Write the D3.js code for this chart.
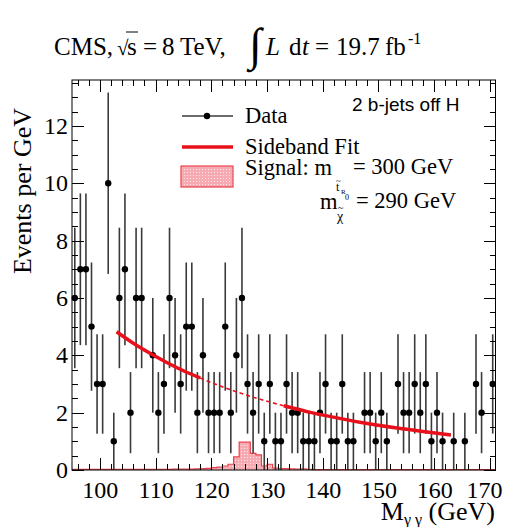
<!DOCTYPE html>
<meta charset="utf-8">
<style>

body {
  margin: 0;
  background: #fff;
}

svg text {
  font-family: "Times New Roman", "Liberation Serif", Tinos, serif;
  fill: #000;
}

.axis path {
  display: none;
}

.axis line {
  stroke: #000;
  shape-rendering: crispEdges;
}

.err {
  stroke: #3a3a3a;
  stroke-width: 1.6;
}

</style>
<body>
<script src="https://d3js.org/d3.v7.min.js"></script>
<script>

// 1 GeV bins starting at 95 GeV
var binStart = 95, binWidth = 1, massMax = 171;

// observed events per bin
var counts = [6, 7, 7, 5, 3, 3, 10, 1, 6, 7,
              2, 6, 6, 0, 4, 2, 3, 6, 4, 3,
              5, 5, 2, 4, 2, 2, 2, 5, 2, 4,
              6, 3, 2, 3, 1, 3, 1, 1, 3, 2,
              2, 1, 1, 1, 2, 3, 1, 1, 3, 1,
              1, 0, 2, 2, 1, 2, 1, 0, 3, 2,
              2, 3, 2, 3, 1, 2, 1, 0, 1, 0,
              1, 0, 3, 2, 0, 3];

// expected signal per bin (m_stop = 300, m_chi = 290)
var signal = [0.02, 0.02, 0.02, 0.02, 0.02, 0.02, 0.02, 0.02, 0.02, 0.02,
              0.02, 0.02, 0.02, 0.02, 0.02, 0.02, 0.02, 0.02, 0.03, 0.03,
              0.03, 0.03, 0.04, 0.05, 0.06, 0.08, 0.10, 0.14, 0.20, 0.46,
              0.97, 0.97, 0.58, 0.53, 0.14, 0.20, 0.07, 0.05, 0.05, 0.04,
              0.03, 0.04, 0.02, 0.01, 0.01, 0.01, 0.01, 0.01, 0.01, 0.01,
              0.01, 0.01, 0.01, 0.01, 0.01, 0.01, 0.01, 0.01, 0.01, 0.01,
              0.01, 0.01, 0.01, 0.01, 0.01, 0.01, 0.01, 0.01, 0.01, 0.01,
              0.01, 0.01, 0.01, 0.01, 0.01, 0.01];

// sideband fit
var fitMass  = [103, 106, 109, 112, 115, 118, 120, 124, 128, 133, 138, 143, 148, 153, 158, 163];
var fitValue = [4.82, 4.42, 4.07, 3.75, 3.46, 3.21, 3.05, 2.76, 2.51, 2.24, 2.00, 1.80, 1.62, 1.47, 1.34, 1.22];
var blindLow = 118, blindHigh = 133;

var xTicks = [100, 110, 120, 130, 140, 150, 160, 170];
var yTicks = [0, 2, 4, 6, 8, 10, 12];

var serif = '"Times New Roman", "Liberation Serif", Tinos, serif';
var frame = {left: 72, right: 495.5, top: 80, bottom: 470};

var x = d3.scaleLinear()
    .domain([binStart, massMax])
    .range([frame.left, frame.right]);

var y = d3.scaleLinear()
    .domain([0, 13.6])
    .range([frame.bottom, frame.top]);

var svg = d3.select("body").append("svg")
    .attr("width", 509)
    .attr("height", 527)
    .attr("font-family", serif);

var defs = svg.append("defs");
var pat = defs.append("pattern")
    .attr("id", "dots")
    .attr("width", 3).attr("height", 3)
    .attr("patternUnits", "userSpaceOnUse");
pat.append("rect").attr("width", 3).attr("height", 3).attr("fill", "#f7aab2");
pat.append("rect").attr("x", 1).attr("y", 1).attr("width", 1).attr("height", 1).attr("fill", "#fde6e8");

// signal histogram
var sigPts = signal.map(function(v, i) { return [binStart + i * binWidth, v]; });
sigPts.push([massMax, signal[signal.length - 1]]);

svg.append("path")
    .datum(sigPts)
    .attr("fill", "url(#dots)")
    .attr("d", d3.area()
        .x(function(d) { return x(d[0]); })
        .y0(y(0))
        .y1(function(d) { return y(d[1]); })
        .curve(d3.curveStepAfter));

svg.append("path")
    .datum(sigPts)
    .attr("fill", "none")
    .attr("stroke", "#e9414b")
    .attr("stroke-width", 1.2)
    .attr("d", d3.line()
        .x(function(d) { return x(d[0]); })
        .y(function(d) { return y(d[1]); })
        .curve(d3.curveStepAfter));

// data
var data = counts.map(function(n, i) {
  return {m: binStart + (i + 0.5) * binWidth, n: n};
}).filter(function(d) { return d.n > 0; });

svg.selectAll(".err")
    .data(data)
  .enter().append("line")
    .attr("class", "err")
    .attr("x1", function(d) { return x(d.m); })
    .attr("x2", function(d) { return x(d.m); })
    .attr("y1", function(d) { return y(Math.max(0, d.n - Math.sqrt(d.n))); })
    .attr("y2", function(d) { return y(d.n + Math.sqrt(d.n)); });

svg.selectAll(".dot")
    .data(data)
  .enter().append("circle")
    .attr("class", "dot")
    .attr("r", 3.2)
    .attr("cx", function(d) { return x(d.m); })
    .attr("cy", function(d) { return y(d.n); })
    .attr("fill", "#000");

// sideband fit
var fitPts = fitMass.map(function(m, i) { return [m, fitValue[i]]; });
var fitLine = d3.line()
    .x(function(d) { return x(d[0]); })
    .y(function(d) { return y(d[1]); })
    .curve(d3.curveMonotoneX);

svg.append("path")
    .attr("d", fitLine(fitPts.filter(function(d) { return d[0] <= blindLow; })))
    .attr("fill", "none").attr("stroke", "#e8101a").attr("stroke-width", 3.5);
svg.append("path")
    .attr("d", fitLine(fitPts.filter(function(d) { return d[0] >= blindLow && d[0] <= blindHigh; })))
    .attr("fill", "none").attr("stroke", "#e8101a").attr("stroke-width", 1.6)
    .attr("stroke-dasharray", "4,3");
svg.append("path")
    .attr("d", fitLine(fitPts.filter(function(d) { return d[0] >= blindHigh; })))
    .attr("fill", "none").attr("stroke", "#e8101a").attr("stroke-width", 3.5);

// frame + axes (ticks inside, mirrored)
var xMinor = d3.range(96, massMax, 2).filter(function(v) { return v % 10 != 0; });
var yMinor = d3.range(0.5, 13.6, 0.5).filter(function(v) { return v % 2 != 0; });

function tidy(g) {
  g.attr("font-family", null).attr("font-size", null);
  g.selectAll("text")
      .style("font-family", serif)
      .style("font-size", "24px");
}

var xAxis = svg.append("g")
    .attr("class", "axis")
    .attr("transform", "translate(0," + frame.bottom + ")")
    .call(d3.axisBottom(x).tickValues(xTicks).tickSize(-12).tickPadding(11).tickFormat(d3.format("d")))
    .call(tidy);
xAxis.selectAll("text")
    .attr("dx", function(d) { return d == 170 ? -6 : 0; });

svg.append("g")
    .attr("class", "axis")
    .attr("transform", "translate(0," + frame.bottom + ")")
    .call(d3.axisBottom(x).tickValues(xMinor).tickSize(-6).tickFormat(""));
svg.append("g")
    .attr("class", "axis")
    .attr("transform", "translate(0," + frame.top + ")")
    .call(d3.axisTop(x).tickValues(xTicks).tickSize(-12).tickFormat(""));
svg.append("g")
    .attr("class", "axis")
    .attr("transform", "translate(0," + frame.top + ")")
    .call(d3.axisTop(x).tickValues(xMinor).tickSize(-6).tickFormat(""));

svg.append("g")
    .attr("class", "axis")
    .attr("transform", "translate(" + frame.left + ",0)")
    .call(d3.axisLeft(y).tickValues(yTicks).tickSize(-12).tickPadding(4))
    .call(tidy);

svg.append("g")
    .attr("class", "axis")
    .attr("transform", "translate(" + frame.left + ",0)")
    .call(d3.axisLeft(y).tickValues(yMinor).tickSize(-6).tickFormat(""));
svg.append("g")
    .attr("class", "axis")
    .attr("transform", "translate(" + frame.right + ",0)")
    .call(d3.axisRight(y).tickValues(yTicks).tickSize(-12).tickFormat(""));
svg.append("g")
    .attr("class", "axis")
    .attr("transform", "translate(" + frame.right + ",0)")
    .call(d3.axisRight(y).tickValues(yMinor).tickSize(-6).tickFormat(""));

svg.append("rect")
    .attr("x", frame.left).attr("y", frame.top)
    .attr("width", frame.right - frame.left)
    .attr("height", frame.bottom - frame.top)
    .attr("fill", "none").attr("stroke", "#000").attr("stroke-width", 1);

// axis titles
svg.append("text")
    .attr("transform", "translate(31,108) rotate(-90)")
    .attr("text-anchor", "end")
    .style("font-size", "26px")
    .text("Events per GeV");

var xt = svg.append("text")
    .attr("x", 495).attr("y", 520)
    .attr("text-anchor", "end")
    .style("font-size", "26px");
xt.append("tspan").text("M");
xt.append("tspan").attr("dy", 5).style("font-size", "16px").text("\u03b3 \u03b3");
xt.append("tspan").attr("dy", -5).text(" (GeV)");

// title, pieces placed along the line as in the reference
var title = svg.append("text")
    .attr("y", 55)
    .style("font-size", "25px");
title.append("tspan").attr("x", 54).text("CMS,");
title.append("tspan").attr("x", 117).style("font-size", "21px").text("\u221a");
title.append("tspan").attr("x", 127).text("s");
title.append("tspan").attr("x", 143).text("=");
title.append("tspan").attr("x", 162).text("8");
title.append("tspan").attr("x", 180).text("TeV,");
title.append("tspan").attr("x", 249).attr("dy", 5).style("font-size", "46px").text("\u222b");
title.append("tspan").attr("x", 266).attr("dy", -5).style("font-style", "italic").text("L");
title.append("tspan").attr("x", 289).text("d");
title.append("tspan").attr("x", 302).style("font-style", "italic").text("t");
title.append("tspan").attr("x", 315).text("=");
title.append("tspan").attr("x", 336).text("19.7");
title.append("tspan").attr("x", 385).text("fb");
title.append("tspan").attr("x", 408).attr("dy", -11).style("font-size", "16px").text("-1");

svg.append("line")
    .attr("x1", 126).attr("x2", 138)
    .attr("y1", 32).attr("y2", 32)
    .attr("stroke", "#000").attr("stroke-width", 1);

// category label
svg.append("text")
    .attr("x", 352).attr("y", 111)
    .style("font-family", '"Liberation Sans", Arial, sans-serif')
    .style("font-size", "19px")
    .text("2 b-jets off H");

// legend
var lg = svg.append("g");
lg.append("line")
    .attr("x1", 182).attr("x2", 233).attr("y1", 116).attr("y2", 116)
    .attr("class", "err");
lg.append("circle").attr("cx", 207).attr("cy", 116).attr("r", 3.2).attr("fill", "#000");
lg.append("text").attr("x", 245).attr("y", 123).style("font-size", "22.5px").text("Data");

lg.append("line")
    .attr("x1", 182).attr("x2", 233).attr("y1", 147).attr("y2", 147)
    .attr("stroke", "#e8101a").attr("stroke-width", 3.5);
lg.append("text").attr("x", 245).attr("y", 154).style("font-size", "22.5px").text("Sideband Fit");

lg.append("rect")
    .attr("x", 181).attr("y", 166).attr("width", 52).attr("height", 21)
    .attr("fill", "url(#dots)").attr("stroke", "#e9414b").attr("stroke-width", 1.2);
lg.append("text").attr("x", 245).attr("y", 175).style("font-size", "22.5px").text("Signal: m");
lg.append("text").attr("x", 336).attr("y", 184).style("font-size", "9px").text("~");
lg.append("text").attr("x", 336).attr("y", 191).style("font-size", "12px").text("t");
lg.append("text").attr("x", 341).attr("y", 194).style("font-size", "7px").text("R");
lg.append("text").attr("x", 353).attr("y", 174).style("font-size", "22.5px").text("= 300 GeV");

lg.append("text").attr("x", 320).attr("y", 209).style("font-size", "22.5px").text("m");
lg.append("text").attr("x", 338).attr("y", 211).style("font-size", "10px").text("~");
lg.append("text").attr("x", 337).attr("y", 221).style("font-size", "14px").text("\u03c7");
lg.append("text").attr("x", 345).attr("y", 200).style("font-size", "8px").text("0");
lg.append("text").attr("x", 356).attr("y", 208).style("font-size", "22.5px").text("= 290 GeV");

</script>
